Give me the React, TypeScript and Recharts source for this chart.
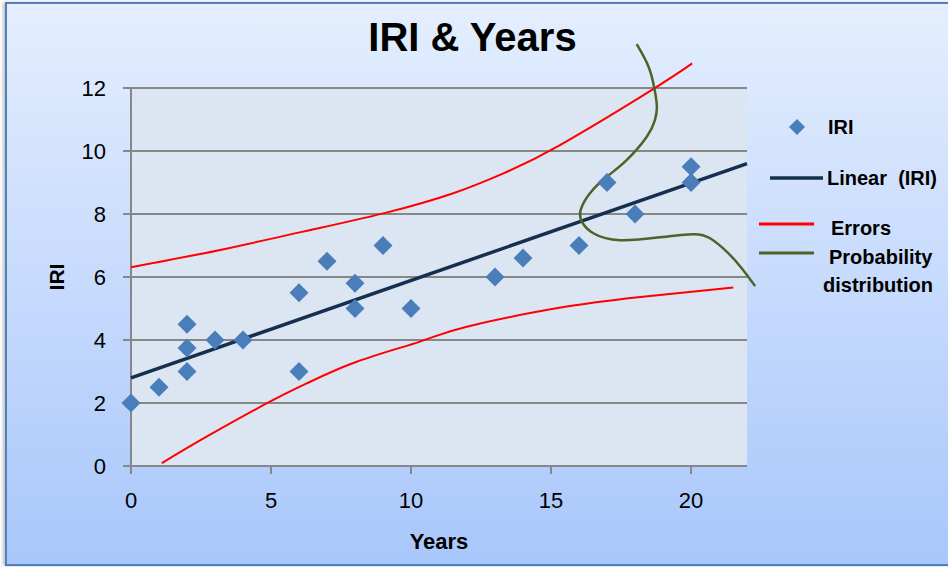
import React from 'react';
import {
  ComposedChart,
  Scatter,
  Line,
  XAxis,
  YAxis,
  Legend,
  Label,
  ReferenceArea,
  ReferenceLine,
} from 'recharts';

// IRI measurements by pavement age
const years = [0, 1, 2, 2, 2, 3, 4, 6, 6, 7, 8, 8, 9, 10, 13, 14, 16, 17, 18, 20, 20];
const iri = [2, 2.5, 4.5, 3.75, 3, 4, 4, 5.5, 3, 6.5, 5.8, 5, 7, 5, 6, 6.6, 7, 9, 8, 9.5, 9];

// linear trend line (end points)
const trendYears = [0, 22];
const trendIri = [2.8, 9.6];

// error band, upper and lower
const upperYears = [0, 3.18, 6.15, 9.01, 11.51, 13.3, 15.32, 18.69, 20.04];
const upperIri = [6.31, 6.86, 7.44, 8.02, 8.66, 9.29, 10.19, 11.99, 12.78];
const lowerYears = [1.1, 2.7, 4.96, 6.27, 8.06, 10.32, 11.99, 15.56, 18.54, 21.51];
const lowerIri = [0.09, 0.93, 2.04, 2.62, 3.31, 3.95, 4.42, 5.06, 5.4, 5.67];

// probability distribution sketch (runs past the plot box)
const probYears = [18.06, 18.48, 18.69, 18.78, 18.71, 18.42, 17.7, 16.99, 16.39, 16.06, 16.1, 16.51, 17.46, 18.89, 20.08, 20.68, 21.28, 21.81, 22.29];
const probIri = [13.39, 12.68, 11.99, 11.41, 10.98, 10.45, 9.71, 9.18, 8.66, 8.13, 7.76, 7.39, 7.17, 7.26, 7.36, 7.23, 6.8, 6.28, 5.71];

const xTicks = [0, 5, 10, 15, 20];
const yTicks = [0, 2, 4, 6, 8, 10, 12];
const xMax = 22; // visible plot box
const yMax = 12;

const pairs = (xs: number[], ys: number[]) => xs.map((x, i) => ({ x, y: ys[i] }));

const pointData = pairs(years, iri);
const trendData = pairs(trendYears, trendIri);
const upperData = pairs(upperYears, upperIri);
const lowerData = pairs(lowerYears, lowerIri);
const probData = pairs(probYears, probIri);

const FONT = '"Liberation Sans", Arial, sans-serif';
const BLUE = '#4a7ebb';
const NAVY = '#15304f';
const RED = '#ff0000';
const GREEN = '#4f6228';
const GRID = '#878787';

const Diamond = (props: any) => {
  const { cx, cy } = props;
  if (cx == null || cy == null) return null;
  const r = 9.5;
  return <path d={`M${cx},${cy - r}L${cx + r},${cy}L${cx},${cy + r}L${cx - r},${cy}Z`} fill={BLUE} />;
};

const renderLegend = () => (
  <svg width={192} height={200} style={{ display: 'block', overflow: 'visible' }}>
    <g fontFamily={FONT} fontWeight="bold" fontSize={20} fill="#000">
      <path d="M41,19L49,27L41,35L33,27Z" fill={BLUE} />
      <text x={72} y={27} dominantBaseline="central">IRI</text>
      <line x1={14} y1={78} x2={67} y2={78} stroke={NAVY} strokeWidth={3.5} />
      <text x={71} y={78} dominantBaseline="central">{'Linear\u00a0 (IRI)'}</text>
      <line x1={3} y1={124} x2={58} y2={124} stroke={RED} strokeWidth={3} />
      <text x={75} y={128} dominantBaseline="central">Errors</text>
      <line x1={3} y1={153} x2={58} y2={153} stroke={GREEN} strokeWidth={3} />
      <text x={73} y={157} dominantBaseline="central">Probability</text>
      <text x={67} y={185} dominantBaseline="central">distribution</text>
    </g>
  </svg>
);

export default function App() {
  return (
    <div style={{ position: 'absolute', left: 0, top: 0, width: 948, height: 567, overflow: 'hidden', background: '#fff' }}>
      <div
        style={{
          position: 'absolute',
          left: 5,
          top: 2,
          width: 970,
          height: 564,
          boxSizing: 'border-box',
          border: '2px solid #4f81bd',
          background: 'linear-gradient(#e4eefe, #a9c7fb)',
          boxShadow: '-2px 0 3px rgba(0,0,0,0.25)',
        }}
      />
      <div
        style={{
          position: 'absolute',
          left: 0,
          top: 10,
          width: 945,
          textAlign: 'center',
          fontFamily: FONT,
          fontWeight: 'bold',
          fontSize: 40,
          lineHeight: '54px',
          color: '#000',
        }}
      >
        IRI &amp; Years
      </div>
      <div style={{ position: 'absolute', left: 0, top: 0 }}>
        <ComposedChart
          width={948}
          height={567}
          margin={{ top: 40.75, right: 0, left: 91, bottom: 71 }}
          style={{ fontFamily: FONT }}
        >
          <ReferenceArea x1={0} x2={xMax} y1={0} y2={yMax} fill="#dce6f2" fillOpacity={1} stroke="none" />
          {yTicks.map((v) => (
            <ReferenceLine
              key={v}
              segment={[{ x: 0, y: v }, { x: xMax, y: v }]}
              stroke={GRID}
              strokeWidth={2}
            />
          ))}
          <ReferenceLine segment={[{ x: 0, y: 0 }, { x: 0, y: yMax }]} stroke={GRID} strokeWidth={2} />
          <XAxis
            type="number"
            dataKey="x"
            domain={[0, 22.32]}
            ticks={xTicks}
            interval={0}
            height={30}
            tickSize={8}
            tickMargin={18}
            axisLine={false}
            tickLine={{ stroke: GRID, strokeWidth: 2 }}
            tick={{ fill: '#000', fontSize: 22, fontFamily: FONT }}
          >
            <Label
              content={() => (
                <text
                  x={439}
                  y={541}
                  textAnchor="middle"
                  dominantBaseline="central"
                  fontFamily={FONT}
                  fontWeight="bold"
                  fontSize={22}
                  fill="#000"
                >
                  Years
                </text>
              )}
            />
          </XAxis>
          <YAxis
            type="number"
            dataKey="y"
            domain={[0, 13.5]}
            ticks={yTicks}
            interval={0}
            width={40}
            tickSize={8}
            tickMargin={17}
            axisLine={false}
            tickLine={{ stroke: GRID, strokeWidth: 2 }}
            tick={{ fill: '#000', fontSize: 22, fontFamily: FONT }}
          >
            <Label
              content={() => (
                <text
                  x={56}
                  y={277}
                  transform="rotate(-90 56 277)"
                  textAnchor="middle"
                  dominantBaseline="central"
                  fontFamily={FONT}
                  fontWeight="bold"
                  fontSize={21}
                  fill="#000"
                >
                  IRI
                </text>
              )}
            />
          </YAxis>
          <Legend
            layout="vertical"
            align="right"
            verticalAlign="top"
            width={192}
            content={renderLegend}
            wrapperStyle={{ top: 100, right: 0, width: 192 }}
          />
          <Line
            name="Errors"
            data={upperData}
            dataKey="y"
            type="natural"
            stroke={RED}
            strokeWidth={2}
            dot={false}
            activeDot={false}
            isAnimationActive={false}
          />
          <Line
            name="Errors low"
            legendType="none"
            data={lowerData}
            dataKey="y"
            type="natural"
            stroke={RED}
            strokeWidth={2}
            dot={false}
            activeDot={false}
            isAnimationActive={false}
          />
          <Scatter
            name="IRI"
            data={pointData}
            dataKey="y"
            fill={BLUE}
            shape={Diamond}
            isAnimationActive={false}
          />
          <Line
            name="Linear  (IRI)"
            data={trendData}
            dataKey="y"
            type="linear"
            stroke={NAVY}
            strokeWidth={3.5}
            dot={false}
            activeDot={false}
            isAnimationActive={false}
          />
          <Line
            name="Probability distribution"
            data={probData}
            dataKey="y"
            type="natural"
            stroke={GREEN}
            strokeWidth={2.5}
            dot={false}
            activeDot={false}
            isAnimationActive={false}
          />
        </ComposedChart>
      </div>
    </div>
  );
}
